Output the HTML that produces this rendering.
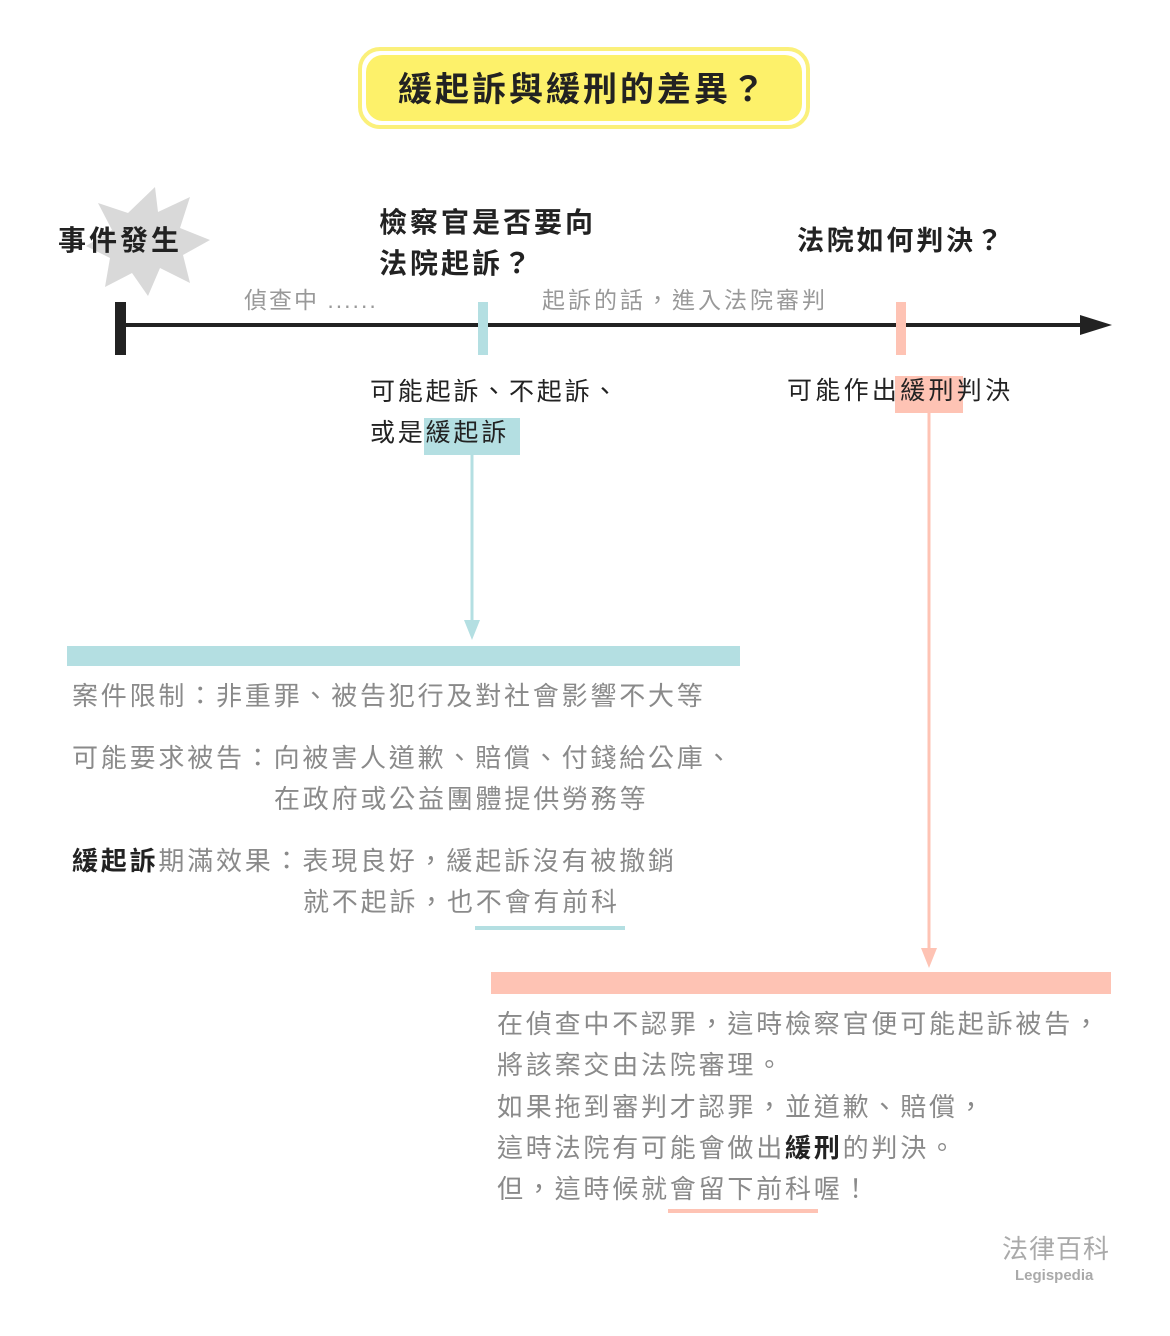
<!DOCTYPE html>
<html><head><meta charset="utf-8"><style>
body{margin:0;background:#fff;}
#c{position:relative;width:1170px;height:1336px;overflow:hidden;font-family:"Liberation Sans","Noto Sans CJK TC",sans-serif;}
.t{position:absolute;white-space:nowrap;line-height:1;}
.g{color:#8a8a8a;font-size:26px;letter-spacing:2.8px;}
.k{color:#222;}
.b{position:absolute;}
</style></head><body><div id="c">
<div class="b" style="left:358px;top:47px;width:444px;height:74px;border:4px solid #fbf07a;border-radius:22px;background:#fff;"></div>
<div class="b" style="left:366px;top:55px;width:436px;height:66px;border-radius:17px;background:#fdf16a;"></div>
<div class="t k" style="left:398px;top:73px;font-size:34px;font-weight:bold;letter-spacing:3px;">緩起訴與緩刑的差異？</div>

<svg class="b" style="left:0;top:0" width="1170" height="1336">
<polygon fill="#d9d9d9" points="155,187 158,212 190,197 180,228 210,240 183,255 190,283 160,268 148,296 132,273 105,287 110,258 86,246 112,230 98,203 128,213"/>
<line x1="120" y1="325" x2="1090" y2="325" stroke="#222" stroke-width="4"/>
<polygon points="1080,315 1112,325 1080,335" fill="#222"/>
<rect x="115" y="302" width="11" height="53" fill="#222"/>
<rect x="478" y="302" width="10" height="53" fill="#b4dfe2"/>
<rect x="896" y="302" width="10" height="53" fill="#fec3b4"/>
<rect x="424" y="418" width="96" height="37" fill="#b4dfe2"/>
<line x1="472" y1="455" x2="472" y2="625" stroke="#b4dfe2" stroke-width="3"/>
<polygon points="464,620 480,620 472,640" fill="#b4dfe2"/>
<rect x="67" y="646" width="673" height="20" fill="#b4dfe2"/>
<rect x="895" y="376" width="68" height="37" fill="#fec3b4"/>
<line x1="929" y1="413" x2="929" y2="952" stroke="#fec3b4" stroke-width="3"/>
<polygon points="921,948 937,948 929,968" fill="#fec3b4"/>
<rect x="491" y="972" width="620" height="22" fill="#fec3b4"/>
<rect x="475" y="926" width="150" height="4" fill="#b4dfe2"/>
<rect x="668" y="1209" width="150" height="4" fill="#fec3b4"/>
</svg>

<div class="t k" style="left:58px;top:227px;font-size:28px;font-weight:bold;letter-spacing:3px;">事件發生</div>
<div class="t k" style="left:379px;top:202px;font-size:28px;font-weight:bold;letter-spacing:3px;line-height:41px;">檢察官是否要向<br>法院起訴？</div>
<div class="t k" style="left:797px;top:228px;font-size:27px;font-weight:bold;letter-spacing:2.8px;">法院如何判決？</div>
<div class="t" style="left:244px;top:289px;font-size:23px;color:#999;letter-spacing:2px;">偵查中 ......</div>
<div class="t" style="left:542px;top:289px;font-size:23px;color:#999;letter-spacing:3px;">起訴的話，進入法院審判</div>
<div class="t k" style="left:370px;top:372px;font-size:25px;letter-spacing:2.8px;line-height:41px;">可能起訴、不起訴、<br>或是緩起訴</div>
<div class="t k" style="left:787px;top:379px;font-size:25px;letter-spacing:3.3px;">可能作出緩刑判決</div>

<div class="t g" style="left:72px;top:683px;">案件限制：非重罪、被告犯行及對社會影響不大等</div>
<div class="t g" style="left:72px;top:745px;">可能要求被告：向被害人道歉、賠償、付錢給公庫、</div>
<div class="t g" style="left:274px;top:786px;">在政府或公益團體提供勞務等</div>
<div class="t g" style="left:72px;top:848px;"><b style="color:#222">緩起訴</b>期滿效果：表現良好，緩起訴沒有被撤銷</div>
<div class="t g" style="left:303px;top:889px;">就不起訴，也不會有前科</div>

<div class="t g" style="left:497px;top:1004px;line-height:41.3px;">在偵查中不認罪，這時檢察官便可能起訴被告，<br>將該案交由法院審理。<br>如果拖到審判才認罪，並道歉、賠償，<br>這時法院有可能會做出<b style="color:#222">緩刑</b>的判決。<br>但，這時候就會留下前科喔！</div>

<div class="t" style="left:1002px;top:1236px;font-size:26px;color:#aaa;letter-spacing:1px;">法律百科</div>
<div class="t" style="left:1015px;top:1268px;font-size:15px;color:#aaa;font-weight:bold;">Legispedia</div>
</div></body></html>
